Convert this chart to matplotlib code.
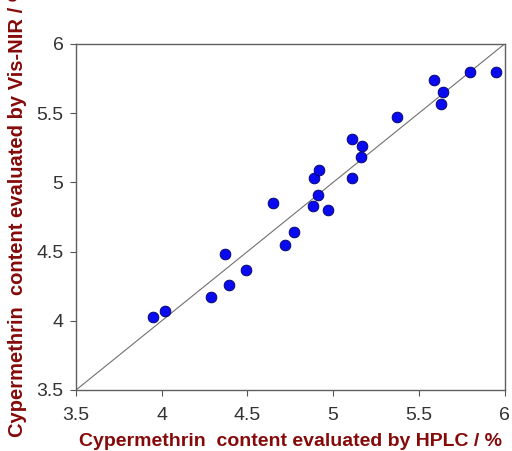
import matplotlib
matplotlib.use("Agg")
import matplotlib.pyplot as plt

hplc = [3.95, 4.02, 4.29, 4.37, 4.39, 4.49, 4.65, 4.72, 4.77, 4.88, 4.89, 4.91,
        4.92, 4.97, 5.11, 5.11, 5.17, 5.16, 5.37, 5.59, 5.64, 5.63, 5.80, 5.95]
visnir = [4.03, 4.07, 4.17, 4.48, 4.26, 4.37, 4.85, 4.55, 4.64, 4.83, 5.03, 4.91,
          5.09, 4.80, 5.03, 5.31, 5.26, 5.18, 5.47, 5.74, 5.65, 5.57, 5.80, 5.80]
ticks = [3.5, 4, 4.5, 5, 5.5, 6]
tick_labels = ["3.5", "4", "4.5", "5", "5.5", "6"]

plt.rcParams['font.family'] = ['Liberation Sans', 'DejaVu Sans']

fig = plt.figure(figsize=(5.12, 4.51), dpi=100)
ax = fig.add_axes([76/512, 1-390/451, (504.5-76)/512, (390-44)/451])

ax.plot([3.5, 6], [3.5, 6], color='#707070', lw=0.8, zorder=1)
ax.scatter(hplc, visnir, s=60, color='#0a0af0', edgecolors='#000060', linewidths=0.6, zorder=3)

ax.set_xlim(3.5, 6)
ax.set_ylim(3.5, 6)
ax.set_xticks(ticks)
ax.set_xticklabels(tick_labels)
ax.set_yticks(ticks)
ax.set_yticklabels(tick_labels)
ax.tick_params(direction='out', length=4, width=0.8, colors='#555555', labelcolor='#333333',
               labelsize=14, top=False, right=False)
ax.tick_params(axis='x', pad=8)
ax.tick_params(axis='y', pad=5)
for s in ax.spines.values():
    s.set_color('#606060')
    s.set_linewidth(1.0)

lab_color = '#860a0a'
ax.set_xlabel("Cypermethrin  content evaluated by HPLC / %", fontsize=14, fontweight='bold',
              color=lab_color, labelpad=7)
ax.set_ylabel("Cypermethrin  content evaluated by Vis-NIR / %", fontsize=14.5, fontweight='bold',
              color=lab_color)
ax.yaxis.set_label_coords(-0.115, 0.52)

fig.savefig("out.png", dpi=100)
